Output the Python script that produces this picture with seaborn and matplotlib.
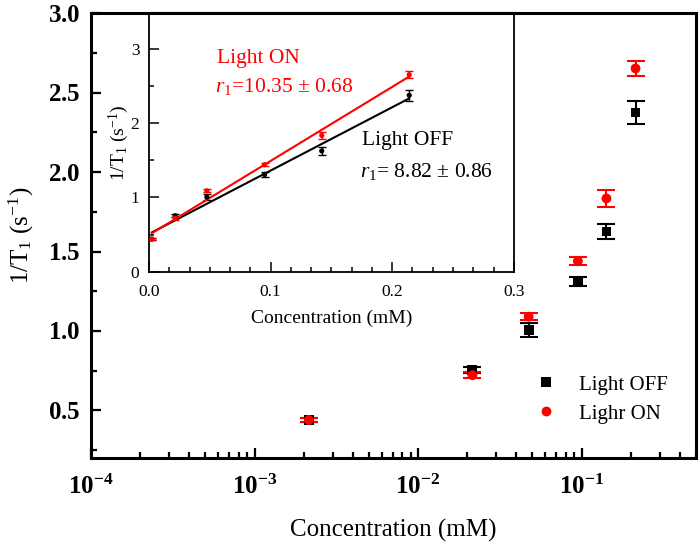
import matplotlib
matplotlib.use('Agg')
from matplotlib import pyplot as plt
from matplotlib import ticker
import numpy as np
import pandas as pd
import seaborn as sns

# concentration (mM) and relaxation rates 1/T1 (s^-1)
conc = [0.00215, 0.0215, 0.0475, 0.095, 0.142, 0.214]
rate_off = [0.44, 0.755, 1.005, 1.31, 1.626, 2.375]
err_off = [0.015, 0.02, 0.043, 0.03, 0.048, 0.073]
rate_on = [0.44, 0.722, 1.09, 1.44, 1.834, 2.652]
err_on = [0.015, 0.02, 0.021, 0.023, 0.053, 0.05]

legend_labels = ['Light OFF', 'Lighr ON']
fit_labels = [('Light OFF', r'$\mathit{r}_\mathregular{1}$= 8.82 ± 0.86'),
              ('Light ON', r'$\mathit{r}_\mathregular{1}$=10.35 ± 0.68')]

COLORS = {'Light OFF': 'black', 'Lighr ON': 'red'}
MARKERS = {'Light OFF': 's', 'Lighr ON': 'o'}

sns.set_theme(style='white')
plt.rcParams.update({
    'font.family': ['Liberation Serif', 'DejaVu Serif'],
    'mathtext.fontset': 'custom',
    'mathtext.rm': 'Liberation Serif',
    'mathtext.it': 'Liberation Serif:italic',
    'mathtext.bf': 'Liberation Serif:bold',
    'axes.edgecolor': 'black',
    'axes.labelcolor': 'black',
    'text.color': 'black',
    'xtick.color': 'black',
    'ytick.color': 'black',
})

df = pd.DataFrame({
    'conc': conc + conc,
    'rate': rate_off + rate_on,
    'err': err_off + err_on,
    'light': [legend_labels[0]] * len(conc) + [legend_labels[1]] * len(conc),
})

fig = plt.figure(figsize=(7, 5.48), dpi=100)
ax = fig.add_axes([0.130, 0.164, 0.864, 0.812])
ins = fig.add_axes([0.213, 0.504, 0.521, 0.472])

# main log plot
for label, sub in df.groupby('light', sort=False):
    ax.errorbar(sub.conc, sub.rate, yerr=sub.err, fmt='none', ecolor=COLORS[label],
                elinewidth=1.5, capsize=6.5, capthick=1.5, zorder=2)
sns.scatterplot(data=df, x='conc', y='rate', hue='light', style='light', palette=COLORS,
                markers=MARKERS, s=50, linewidth=0, ax=ax, zorder=3)
ax.set_xscale('log')
ax.set_xlim(1e-4, 0.5)
ax.set_ylim(0.2, 3.0)
ax.xaxis.set_major_locator(ticker.LogLocator(base=10, numticks=100))
ax.xaxis.set_minor_locator(ticker.LogLocator(base=10, subs=np.arange(2, 10), numticks=100))
ax.xaxis.set_major_formatter(ticker.FuncFormatter(lambda v, p: r'$\mathbf{10^{%d}}$' % round(np.log10(v))))
ax.xaxis.set_minor_formatter(ticker.NullFormatter())
ax.yaxis.set_major_locator(ticker.MultipleLocator(0.5))
ax.yaxis.set_minor_locator(ticker.MultipleLocator(0.25))
ax.yaxis.set_major_formatter(ticker.FormatStrFormatter(r'$\mathbf{%.1f}$'))
ax.tick_params(which='both', direction='in', bottom=True, left=True, top=False, right=False, width=1.6)
ax.tick_params(which='major', length=7, labelsize=18)
ax.tick_params(which='minor', length=4)
ax.tick_params(axis='x', which='major', pad=12)
ax.tick_params(axis='y', which='major', pad=8)
for sp in ax.spines.values():
    sp.set_linewidth(2.2)
ax.set_xlabel('Concentration (mM)', fontsize=18, labelpad=14)
ax.set_ylabel(r'1/T$_\mathregular{1}$ (s$^\mathregular{-1}$)', fontsize=18, labelpad=8)
ax.legend(title=None, frameon=False, loc='upper left', bbox_to_anchor=(0.70, 0.21),
          fontsize=15, handletextpad=0.6, labelspacing=0.45, borderpad=0, markerscale=1.0)

# inset linear plot with fits
for label, sub in df.groupby('light', sort=False):
    ins.errorbar(sub.conc, sub.rate, yerr=sub.err, fmt='none', ecolor=COLORS[label],
                 elinewidth=1, capsize=3, capthick=1, zorder=2)
    sns.regplot(x=sub.conc, y=sub.rate, scatter=False, ci=None, color=COLORS[label],
                line_kws={'lw': 1.5}, ax=ins)
sns.scatterplot(data=df, x='conc', y='rate', hue='light', palette=COLORS, s=14,
                linewidth=0, legend=False, ax=ins, zorder=3)
ins.set_xlim(0, 0.3)
ins.set_ylim(0, 3.48)
ins.xaxis.set_major_locator(ticker.MultipleLocator(0.1))
ins.xaxis.set_minor_locator(ticker.AutoMinorLocator(6))
ins.xaxis.set_major_formatter(ticker.FormatStrFormatter('%.1f'))
ins.yaxis.set_major_locator(ticker.MultipleLocator(1))
ins.yaxis.set_minor_locator(ticker.AutoMinorLocator(2))
ins.tick_params(which='both', direction='in', bottom=True, left=True, top=False, right=False, width=1.1)
ins.tick_params(which='major', length=7, labelsize=12.5)
ins.tick_params(which='minor', length=3.5)
ins.tick_params(axis='x', which='major', pad=9)
ins.tick_params(axis='y', which='major', pad=7)
for sp in ins.spines.values():
    sp.set_linewidth(1.3)
ins.spines['top'].set_linewidth(2.2)
ins.set_xlabel('Concentration (mM)', fontsize=14, labelpad=7)
ins.set_ylabel(r'1/T$_\mathregular{1}$ (s$^\mathregular{-1}$)', fontsize=14, labelpad=0)

ins.text(0.185, 0.807, fit_labels[1][0], color='red', fontsize=15.5, transform=ins.transAxes)
ins.text(0.181, 0.695, fit_labels[1][1], color='red', fontsize=15.5, transform=ins.transAxes)
ins.text(0.583, 0.490, fit_labels[0][0], color='black', fontsize=15.5, transform=ins.transAxes)
ins.text(0.578, 0.368, fit_labels[0][1], color='black', fontsize=15.5, transform=ins.transAxes)

fig.savefig('out.png', dpi=100)
